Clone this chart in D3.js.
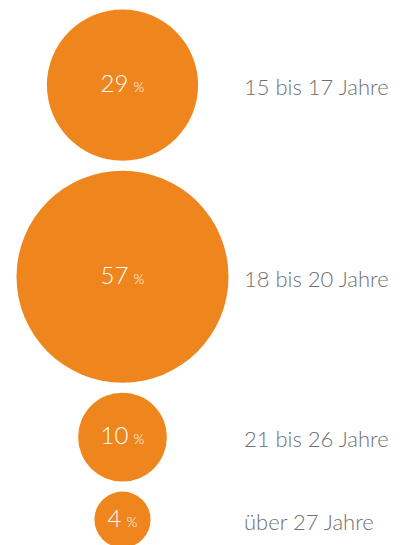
<!DOCTYPE html>
<html>
<head>
<meta charset="utf-8">
<script src="https://cdn.jsdelivr.net/npm/d3@7"></script>
<style>
  body { margin: 0; background: #fff; }
  svg { display: block; }
</style>
</head>
<body>
<svg class="chart"></svg>
<script>
// Altersgruppen und Anteile (in %)
const groups = ["15 bis 17 Jahre", "18 bis 20 Jahre", "21 bis 26 Jahre", "über 27 Jahre"];
const shares = [29, 57, 10, 4];

const width = 405, height = 545;
const svg = d3.select(".chart").attr("width", width).attr("height", height);

// Circle area proportional to share
const r = d3.scaleSqrt().domain([0, d3.max(shares)]).range([0, 106]);

const cx = 122.5, startY = 9.5, gap = 10;

// stack circles vertically
let y = startY;
const data = groups.map((g, i) => {
    const rad = r(shares[i]);
    const cy = y + rad;
    y = cy + rad + gap;
    return { group: g, value: shares[i], r: rad, cy: cy };
});

const rows = svg.selectAll("g.row")
    .data(data)
    .enter()
    .append("g")
    .attr("class", "row");

rows.append("circle")
    .attr("cx", cx)
    .attr("cy", d => d.cy)
    .attr("r", d => d.r)
    .attr("fill", "#ef861d");

// value inside the circle
const val = rows.append("text")
    .attr("x", cx)
    .attr("y", d => d.cy)
    .attr("dy", "0.44em")
    .attr("text-anchor", "middle")
    .attr("fill", "#fff")
    .style("font-family", "Lato, sans-serif")
    .style("font-weight", 300);
val.append("tspan")
    .style("font-size", "24px")
    .text(d => d.value);
val.append("tspan")
    .attr("dx", 5)
    .style("font-size", "14px")
    .text("%");

// age label to the right
rows.append("text")
    .attr("x", 244)
    .attr("y", d => d.cy)
    .attr("dy", "0.46em")
    .attr("fill", "#707070")
    .style("font-family", "Lato, sans-serif")
    .style("font-weight", 300)
    .style("font-size", "22px")
    .text(d => d.group);
</script>
</body>
</html>
